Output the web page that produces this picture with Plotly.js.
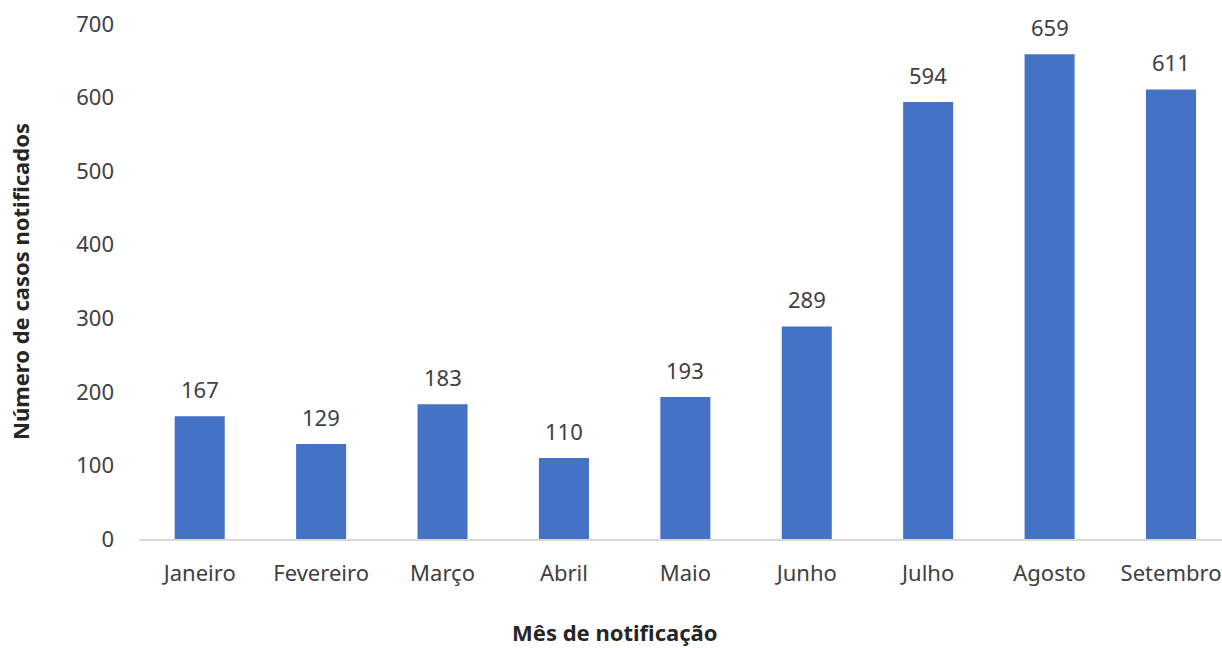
<!DOCTYPE html>
<html>
<head>
<meta charset="utf-8">
<script src="https://cdn.plot.ly/plotly-3.0.1.min.js"></script>
<style>html,body{margin:0;padding:0;background:#fff;}#chart{width:1222px;height:648px;}</style>
</head>
<body>
<div id="chart"></div>
<script>
const months = ["Janeiro", "Fevereiro", "Março", "Abril", "Maio", "Junho", "Julho", "Agosto", "Setembro"];
const cases = [167, 129, 183, 110, 193, 289, 594, 659, 611];
const yTicks = [0, 100, 200, 300, 400, 500, 600, 700];
const xTitle = "Mês de notificação";
const yTitle = "Número de casos notificados";

const FONT = "'Noto Sans', 'Open Sans', sans-serif";

const trace = {
  type: "bar",
  x: months,
  y: cases,
  marker: {color: "#4472C4"},
  hoverinfo: "x+y"
};

const annotations = months.map((m, i) => ({
  x: m, y: cases[i], xref: "x", yref: "y",
  text: String(cases[i]),
  showarrow: false, yanchor: "middle", yshift: 27,
  font: {family: FONT, size: 22, color: "#404040"}
}));

// x-axis title, placed as in the reference (left of plot-area centre)
annotations.push({
  xref: "paper", yref: "paper", x: 0.4395, y: -0.181,
  xanchor: "center", yanchor: "middle", showarrow: false,
  borderpad: 0,
  text: xTitle,
  font: {family: FONT, size: 22, color: "#262626", weight: "bold"}
});

const layout = {
  width: 1222, height: 648,
  margin: {l: 139, r: 0, t: 24, b: 109},
  paper_bgcolor: "#fff", plot_bgcolor: "#fff",
  bargap: 0.588,
  showlegend: false,
  font: {family: FONT, color: "#404040"},
  xaxis: {
    type: "category",
    range: [-0.5, 8.42],
    showline: true, linecolor: "#d9d9d9", linewidth: 1.5,
    showgrid: false, zeroline: false, ticks: "",
    ticklabelstandoff: 14,
    tickfont: {family: FONT, size: 22, color: "#404040"}
  },
  yaxis: {
    range: [0, 700],
    tickvals: yTicks,
    showline: false, showgrid: false, zeroline: false, ticks: "",
    ticklabelstandoff: 24,
    tickfont: {family: FONT, size: 22, color: "#404040"},
    title: {text: yTitle, standoff: 40, font: {family: FONT, size: 22, color: "#262626", weight: "bold"}}
  },
  annotations: annotations
};

Plotly.newPlot("chart", [trace], layout, {displayModeBar: false, staticPlot: true});
</script>
</body>
</html>
